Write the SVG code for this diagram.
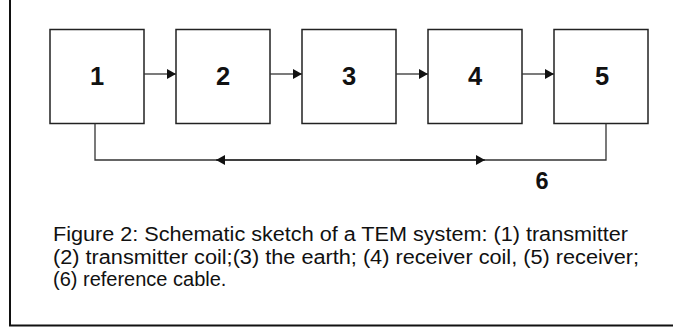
<svg xmlns="http://www.w3.org/2000/svg" width="673" height="329" viewBox="0 0 673 329">
<style>
.box{fill:#fff;stroke:#222;stroke-width:1.5}
.num{font-family:"Liberation Sans",Arial,sans-serif;font-weight:bold;font-size:25.5px;text-anchor:middle;fill:#111}
.cap{font-family:"Liberation Sans",Arial,sans-serif;font-size:20px;fill:#111}
.ln{fill:none;stroke:#333;stroke-width:1.3}
.frame{fill:none;stroke:#111;stroke-width:2}
</style>
<defs>
<marker id="ah" markerWidth="10" markerHeight="10" refX="9" refY="5" orient="auto" markerUnits="userSpaceOnUse">
<path d="M0,0 L9,5 L0,10 Z" fill="#111"/>
</marker>
</defs>
<rect width="673" height="329" fill="#fff"/>
<path class="frame" d="M10,0 V325.5 H673"/>
<g id="node1"><rect class="box" x="50" y="29.5" width="94" height="94"/><text class="num" x="97" y="85">1</text></g>
<g id="node2"><rect class="box" x="176" y="29.5" width="94" height="94"/><text class="num" x="223" y="85">2</text></g>
<g id="node3"><rect class="box" x="302" y="29.5" width="94" height="94"/><text class="num" x="349" y="85">3</text></g>
<g id="node4"><rect class="box" x="428" y="29.5" width="94" height="94"/><text class="num" x="475" y="85">4</text></g>
<g id="node5"><rect class="box" x="554" y="29.5" width="94" height="94"/><text class="num" x="602" y="85">5</text></g>
<g id="connectors">
<line class="ln" x1="144" y1="74" x2="176" y2="74" marker-end="url(#ah)"/>
<line class="ln" x1="270" y1="74" x2="302" y2="74" marker-end="url(#ah)"/>
<line class="ln" x1="396" y1="74" x2="428" y2="74" marker-end="url(#ah)"/>
<line class="ln" x1="522" y1="74" x2="554" y2="74" marker-end="url(#ah)"/>
<path class="ln" d="M95,123.5 V160 H606 V123.5"/>
<line class="ln" x1="300" y1="160" x2="216" y2="160" marker-end="url(#ah)"/>
<line class="ln" x1="400" y1="160" x2="485" y2="160" marker-end="url(#ah)"/>
</g>
<text class="num" x="542" y="188.5" style="font-size:23.5px">6</text>
<g id="caption">
<text class="cap" x="53" y="241" textLength="575" lengthAdjust="spacingAndGlyphs">Figure 2: Schematic sketch of a TEM system: (1) transmitter</text>
<text class="cap" x="53" y="263.5" textLength="586" lengthAdjust="spacingAndGlyphs">(2) transmitter coil;(3) the earth; (4) receiver coil, (5) receiver;</text>
<text class="cap" x="53" y="286">(6) reference cable.</text>
</g>
</svg>
